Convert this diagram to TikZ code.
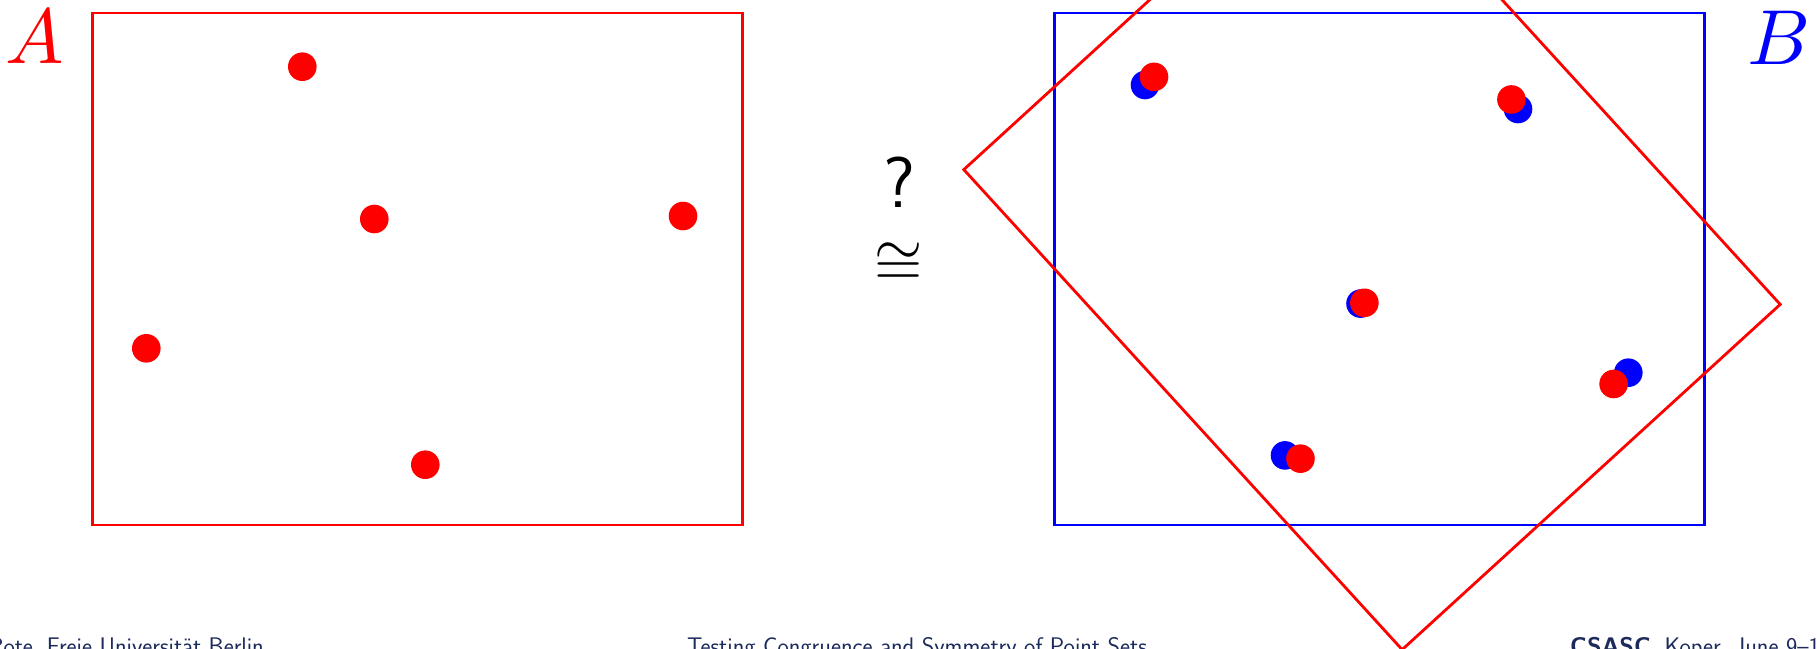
\documentclass[tikz,border=0pt]{standalone}
\usepackage{fontspec}
\definecolor{footblue}{RGB}{28,42,92}
\begin{document}
\begin{tikzpicture}[x=1pt,y=-1pt,
  redframe/.style={draw=red,line width=2.8pt,line join=miter},
  blueframe/.style={draw=blue,line width=2.8pt},
  rdot/.style={circle,fill=red,inner sep=0pt,minimum size=28.6pt},
  bdot/.style={circle,fill=blue,inner sep=0pt,minimum size=28.6pt},
  setlabel/.style={inner sep=0pt,font=\fontsize{10}{12}\selectfont,scale=7.8},
  foot/.style={inner sep=0pt,text=footblue,font=\sffamily\fontsize{24}{28}\selectfont}]
\clip (0,0) rectangle (1817,648);
% set A
\draw[redframe] (92.7,13) rectangle (742.8,525);
\node[rdot] (a1) at (302.3,66.7) {};
\node[rdot] (a2) at (374.3,219) {};
\node[rdot] (a3) at (683,216) {};
\node[rdot] (a4) at (146.3,348.3) {};
\node[rdot] (a5) at (425.3,464.7) {};
\node[setlabel,text=red] (labA) at (35,37) {$A$};
% set B
\draw[blueframe] (1054.5,13) rectangle (1704.6,525);
\node[bdot] (b1) at (1145,85) {};
\node[bdot] (b2) at (1518,109) {};
\node[bdot] (b3) at (1360.5,303.6) {};
\node[bdot] (b4) at (1628.3,372.7) {};
\node[bdot] (b5) at (1285,455.4) {};
\node[setlabel,text=blue] (labB) at (1779,37.7) {$B$};
% rotated copy of A
\begin{scope}[shift={(1372,237)},rotate=132.4]
  \draw[redframe] (-325.05,-256) -- (325.05,-256) -- (325.05,256) -- (-325.05,256) -- cycle;
  \node[rdot] (c1) at (-115.45,-202.3) {};
  \node[rdot] (c2) at (-43.45,-50) {};
  \node[rdot] (c3) at (265.25,-53) {};
  \node[rdot] (c4) at (-271.45,79.3) {};
  \node[rdot] (c5) at (7.55,195.7) {};
\end{scope}
% congruence sign
\node[inner sep=0pt,font=\sffamily\fontsize{72}{80}\selectfont] (q) at (899,182) {?};
\node[inner sep=0pt,font=\fontsize{10}{12}\selectfont,scale=6.2] (cong) at (899,264) {$\cong$};
% footer
\node[foot,anchor=base east] (f1) at (264,654) {Rote, Freie Universität Berlin};
\node[foot,anchor=base] (f2) at (917,654) {Testing Congruence and Symmetry of Point Sets};
\node[foot,anchor=base west] (f3) at (1570,654) {\textbf{CSASC}, Koper, June 9--13};
\end{tikzpicture}
\end{document}
